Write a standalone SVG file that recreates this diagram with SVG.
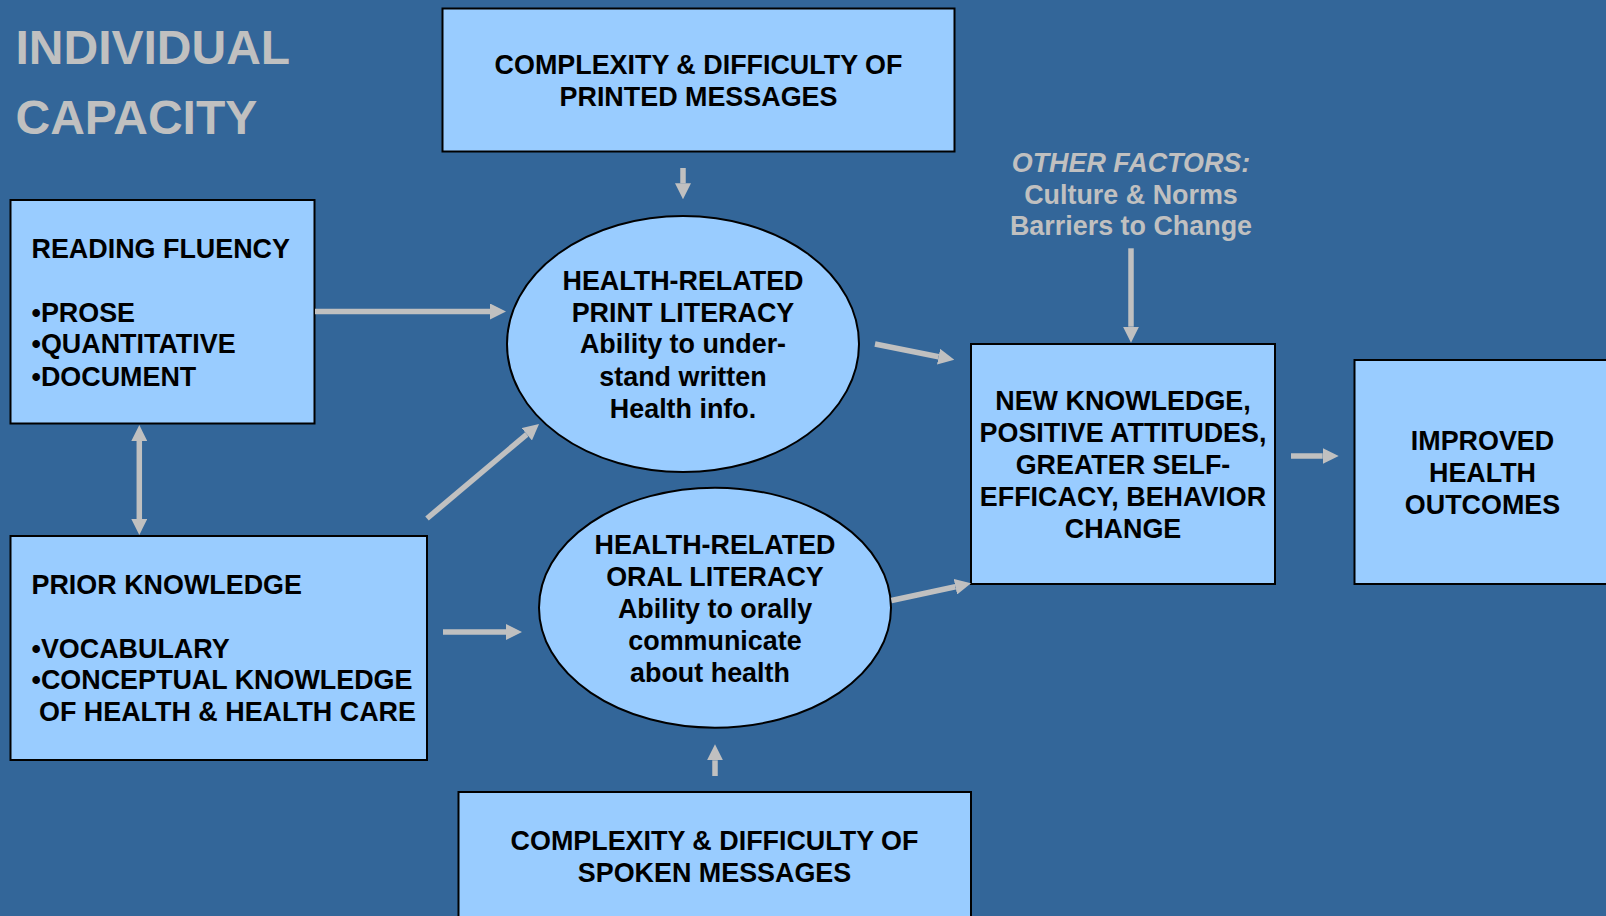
<svg xmlns="http://www.w3.org/2000/svg" width="1606" height="916" viewBox="0 0 1606 916">
<style>
text{font-family:"Liberation Sans",Arial,sans-serif;font-weight:bold;}
.box{fill:#99CCFF;stroke:#000;stroke-width:2;}
.t{font-size:26.9px;fill:#000;}
.c{text-anchor:middle;}
.g{fill:#C0C0C0;}
.title{font-size:48px;fill:#C0C0C0;}
.arr{stroke:#C0C0C0;stroke-width:5.5;fill:none;marker-end:url(#ah);}
</style>
<defs>
<marker id="ah" markerUnits="userSpaceOnUse" markerWidth="16" markerHeight="16" refX="0" refY="8" orient="auto-start-reverse" viewBox="0 0 16 16">
<path d="M0,0 L16,8 L0,16 z" fill="#C0C0C0"/>
</marker>
</defs>
<rect x="0" y="0" width="1606" height="916" fill="#336699"/>
<g id="title">
<text class="title" x="15.5" y="64">INDIVIDUAL</text>
<text class="title" x="15.5" y="134">CAPACITY</text>
</g>
<g id="printed-messages">
<rect class="box" x="442.5" y="8.5" width="512" height="143"/>
<text class="t c" x="698.5" y="73.5">COMPLEXITY &amp; DIFFICULTY OF</text>
<text class="t c" x="698.5" y="105.5">PRINTED MESSAGES</text>
</g>
<g id="reading-fluency">
<rect class="box" x="10.5" y="200" width="304" height="223.5"/>
<text class="t" x="31.5" y="258">READING FLUENCY</text>
<text class="t" x="31.5" y="321.5">•PROSE</text>
<text class="t" x="31.5" y="353">•QUANTITATIVE</text>
<text class="t" x="31.5" y="385.5">•DOCUMENT</text>
</g>
<g id="prior-knowledge">
<rect class="box" x="10.5" y="536" width="416.5" height="224"/>
<text class="t" x="31.5" y="593.5">PRIOR KNOWLEDGE</text>
<text class="t" x="31.5" y="657.5">•VOCABULARY</text>
<text class="t" x="31.5" y="689">•CONCEPTUAL KNOWLEDGE</text>
<text class="t" x="39" y="721">OF HEALTH &amp; HEALTH CARE</text>
</g>
<g id="print-literacy">
<ellipse class="box" cx="683" cy="344" rx="176" ry="128"/>
<text class="t c" x="683" y="289.5">HEALTH-RELATED</text>
<text class="t c" x="683" y="321.5">PRINT LITERACY</text>
<text class="t c" x="683" y="353">Ability to under-</text>
<text class="t c" x="683" y="385.5">stand written</text>
<text class="t c" x="683" y="417.5">Health info.</text>
</g>
<g id="oral-literacy">
<ellipse class="box" cx="715" cy="607.7" rx="176" ry="120"/>
<text class="t c" x="715" y="553.5">HEALTH-RELATED</text>
<text class="t c" x="715" y="585.5">ORAL LITERACY</text>
<text class="t c" x="715" y="617.5">Ability to orally</text>
<text class="t c" x="715" y="650">communicate</text>
<text class="t c" x="710" y="681.5">about health</text>
</g>
<g id="spoken-messages">
<rect class="box" x="458.5" y="792" width="512.5" height="140"/>
<text class="t c" x="714.5" y="850">COMPLEXITY &amp; DIFFICULTY OF</text>
<text class="t c" x="714.5" y="881.5">SPOKEN MESSAGES</text>
</g>
<g id="other-factors">
<text class="t c g" x="1131" y="171.5" font-style="italic">OTHER FACTORS:</text>
<text class="t c g" x="1131" y="203.5">Culture &amp; Norms</text>
<text class="t c g" x="1131" y="235">Barriers to Change</text>
</g>
<g id="new-knowledge">
<rect class="box" x="971" y="344" width="304" height="240"/>
<text class="t c" x="1123" y="410">NEW KNOWLEDGE,</text>
<text class="t c" x="1123" y="442">POSITIVE ATTITUDES,</text>
<text class="t c" x="1123" y="473.5">GREATER SELF-</text>
<text class="t c" x="1123" y="505.5">EFFICACY, BEHAVIOR</text>
<text class="t c" x="1123" y="537.5">CHANGE</text>
</g>
<g id="improved-outcomes">
<rect class="box" x="1354.5" y="360" width="270" height="224"/>
<text class="t c" x="1482.5" y="450">IMPROVED</text>
<text class="t c" x="1482.5" y="481.5">HEALTH</text>
<text class="t c" x="1482.5" y="513.5">OUTCOMES</text>
</g>
<g id="connectors">
<line class="arr" x1="683" y1="168" x2="683" y2="183.3"/>
<line class="arr" x1="315" y1="311.5" x2="490" y2="311.5"/>
<line class="arr" x1="139.3" y1="441" x2="139.3" y2="519" style="marker-start:url(#ah)"/>
<line class="arr" x1="427" y1="518.5" x2="526.8" y2="434.3"/>
<line class="arr" x1="443" y1="632" x2="506" y2="632"/>
<line class="arr" x1="715" y1="776" x2="715" y2="760.3"/>
<line class="arr" x1="875" y1="344" x2="938.6" y2="356.7"/>
<line class="arr" x1="891.4" y1="600.5" x2="955.4" y2="586.7"/>
<line class="arr" x1="1131" y1="248.3" x2="1131" y2="326.7"/>
<line class="arr" x1="1291" y1="456" x2="1322.7" y2="456"/>
</g>
</svg>
